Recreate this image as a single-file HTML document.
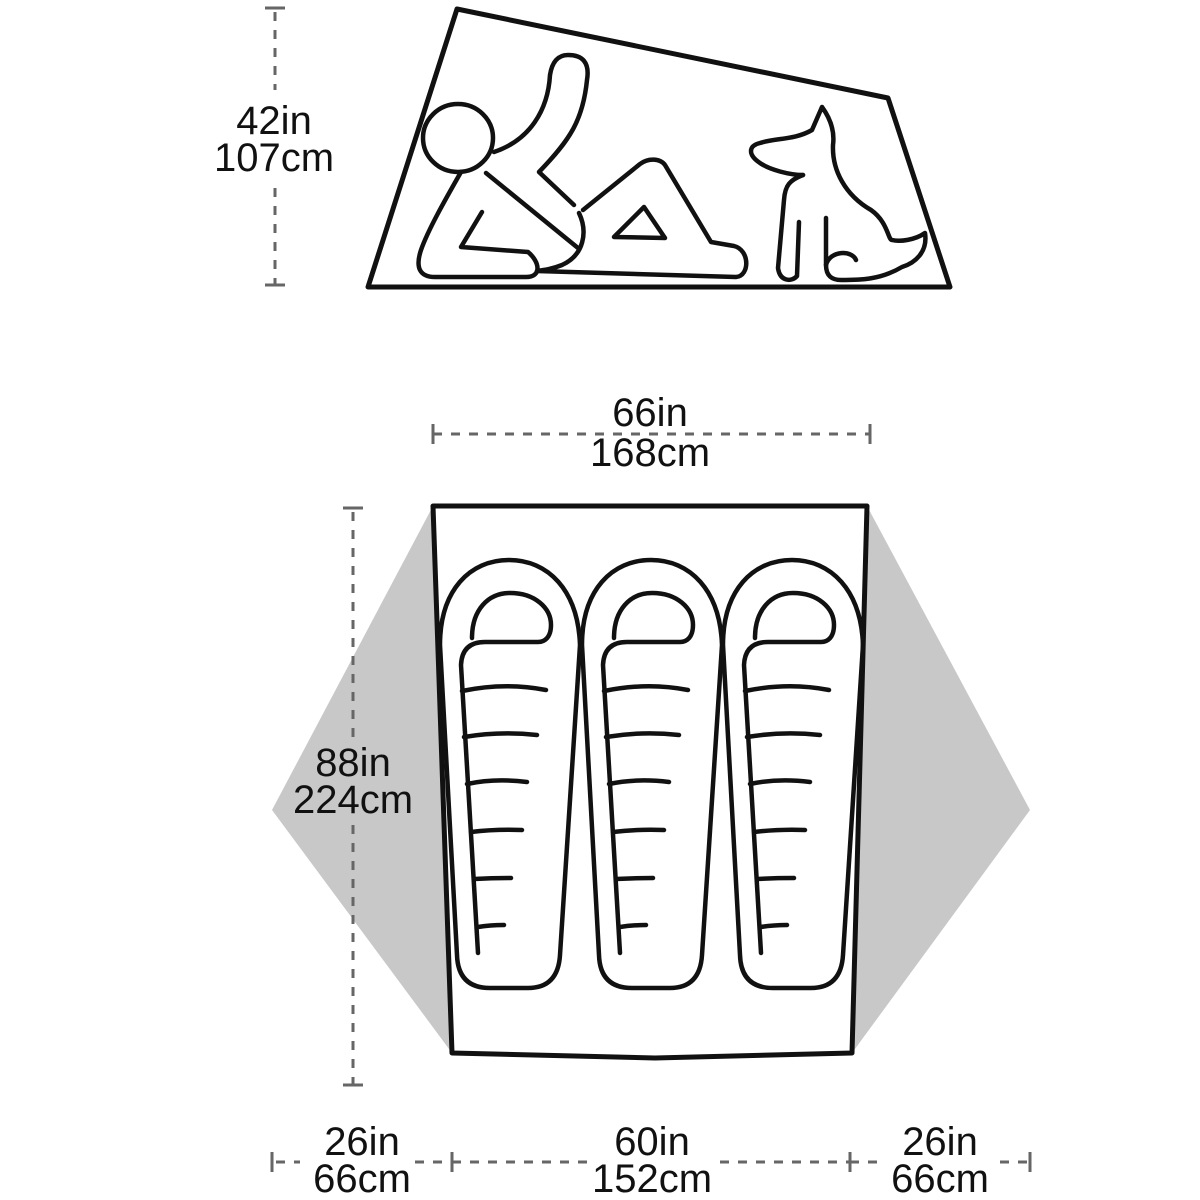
<!DOCTYPE html>
<html><head><style>html,body{margin:0;padding:0;background:#fff}svg{display:block}</style></head>
<body>
<svg width="1200" height="1200" viewBox="0 0 1200 1200" xmlns="http://www.w3.org/2000/svg" font-family="Liberation Sans, sans-serif">
<defs>
<g id="bag" fill="none" stroke="#111" stroke-width="4.5" stroke-linecap="round" stroke-linejoin="round">
<path d="M440,645 C440,590 470,560 509,560 C548,560 578,590 580,645 L560,955 Q558,988 528,988 L490,988 Q458,988 457,955 Z"/>
<path d="M472,638 C472,610 488,593 510,593 C535,593 551,608 551,625 C551,637 545,642 538,642 L485,642 Q462,642 461,665 L478,953"/>
<path d="M462,691 Q505,682 546,690"/>
<path d="M464,737 Q500,731 537,735"/>
<path d="M467,784 Q495,778 527,782"/>
<path d="M471,832 Q495,829 522,830"/>
<path d="M474,879 Q492,878 511,878"/>
<path d="M478,927 Q490,925 504,925"/>
</g>
</defs>
<polygon points="433,506 272,810 452,1053" fill="#c8c8c8"/>
<polygon points="867,506 1030,810 852,1053" fill="#c8c8c8"/>
<path d="M433,506 L867,506 L852,1053 L655,1058 L452,1053 Z" fill="#fff" stroke="#111" stroke-width="5" stroke-linejoin="round"/>
<use href="#bag"/>
<use href="#bag" transform="translate(142,0)"/>
<use href="#bag" transform="translate(283,0)"/>
<polygon points="457,9 888,98 950,287 368,287" fill="none" stroke="#111" stroke-width="5" stroke-linejoin="round"/>
<g fill="none" stroke="#111" stroke-width="4.5" stroke-linecap="round" stroke-linejoin="round">
<ellipse cx="458" cy="138" rx="35" ry="34"/>
<path d="M494,152 C530,140 548,110 550,75 C552,62 558,55 568,55 C582,55 590,62 587,80 C583,120 570,140 539,172 L574,205"/>
<path d="M486,173 L578,248"/>
<path d="M461,172 C445,200 428,230 421,250 C415,268 420,277 435,277 L526,277 C542,277 540,262 528,252 L461,247 L482,212"/>
<path d="M579,213 C588,232 584,255 562,265 C552,269 545,270 537,271 L736,277 C750,276 750,250 734,246 L711,242 L665,165 C660,158 648,158 640,164 L583,210"/>
<path d="M614,237 L644,207 L665,238 Z"/>
<path d="M803,175 C790,175 770,170 760,163 C748,155 748,146 760,143 C775,138 795,140 812,130 L822,107 C830,118 835,130 833,145 C832,170 845,195 871,210 C888,222 888,240 892,240 C900,242 915,240 925,233 C928,252 915,263 902,267 C880,280 860,280 841,280 C832,280 826,276 826,265 L826,218"/>
<path d="M803,175 C790,180 785,185 784,200 L778,268 C780,282 792,282 797,276 L799,222"/>
<path d="M826,265 C830,250 852,250 856,260"/>
</g>
<g stroke="#666" stroke-width="3" fill="none">
<path d="M275,12 V90 M275,188 V284" stroke-dasharray="9,9"/>
<path d="M265,8 H285 M265,285 H285"/>
<path d="M433,424 V444 M870,424 V444"/>
<path d="M433,434 H870" stroke-dasharray="9,9"/>
<path d="M343,508 H363 M343,1085 H363"/>
<path d="M353,512 V738 M353,825 V1085" stroke-dasharray="9,9"/>
<path d="M272,1152 V1172 M452,1152 V1172 M850,1152 V1172 M1030,1152 V1172"/>
<path d="M276,1162 H300 M415,1162 H452 M452,1162 H590 M720,1162 H850 M850,1162 H880 M1000,1162 H1030" stroke-dasharray="9,9"/>
</g>
<g fill="#111" font-size="40" text-anchor="middle">
<text x="274" y="134">42in</text><text x="274" y="171">107cm</text>
<text x="650" y="426">66in</text><text x="650" y="466">168cm</text>
<text x="353" y="776">88in</text><text x="353" y="813">224cm</text>
<text x="362" y="1155">26in</text><text x="362" y="1192">66cm</text>
<text x="652" y="1155">60in</text><text x="652" y="1192">152cm</text>
<text x="940" y="1155">26in</text><text x="940" y="1192">66cm</text>
</g>
</svg>
</body></html>
